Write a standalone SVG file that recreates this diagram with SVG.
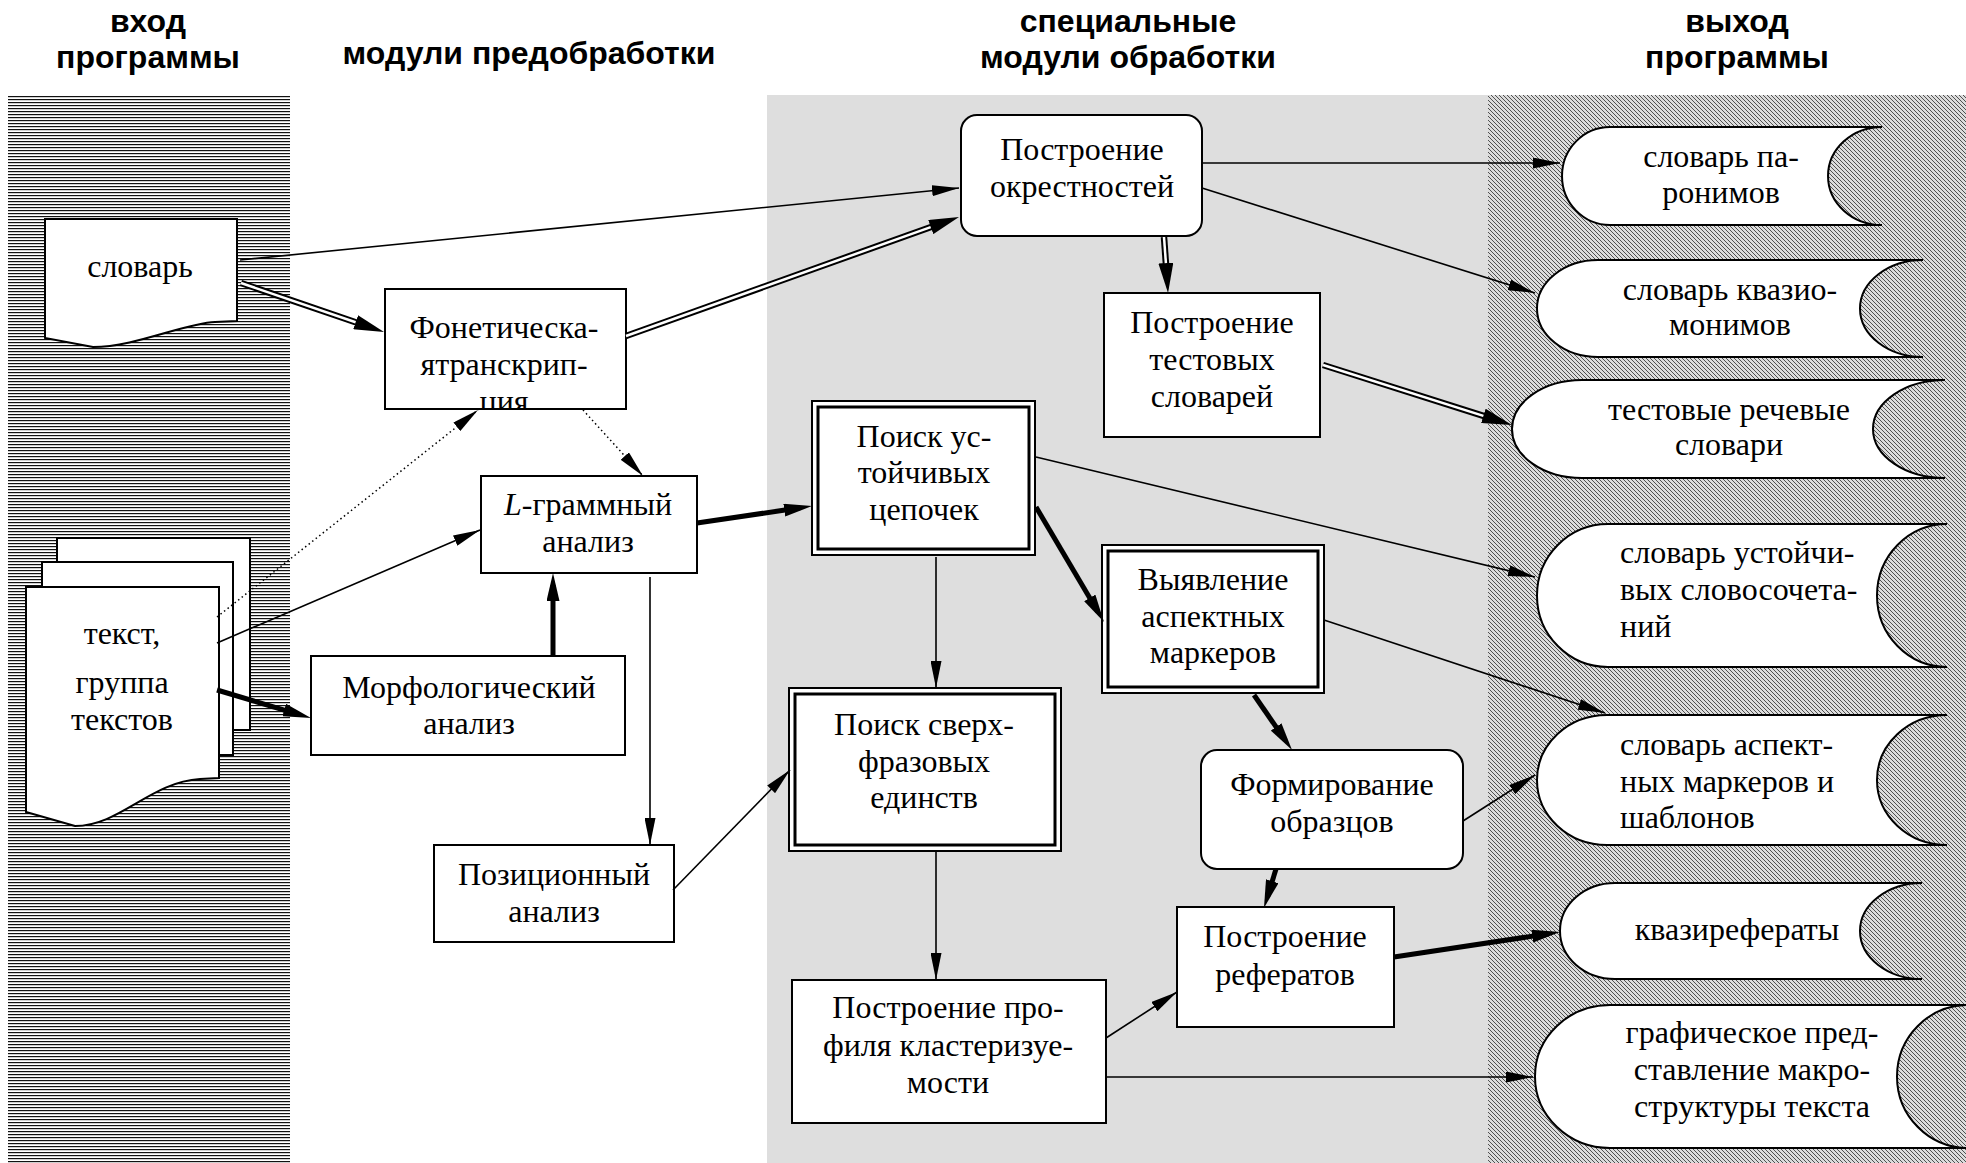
<svg xmlns="http://www.w3.org/2000/svg" width="1966" height="1163" viewBox="0 0 1966 1163">
<style>
.t{font-family:"Liberation Serif","Times New Roman",serif;font-size:32px;text-anchor:middle;fill:#000}
.tl{font-family:"Liberation Serif","Times New Roman",serif;font-size:32px;text-anchor:start;fill:#000}
.h{font-family:"Liberation Sans",Arial,sans-serif;font-weight:bold;font-size:32px;text-anchor:middle;fill:#000}
.box{fill:#fff;stroke:#000;stroke-width:2}
.in{fill:none;stroke:#000;stroke-width:3}
.c{fill:none;stroke:#000;stroke-width:1.6}
.ck{fill:none;stroke:#000;stroke-width:5}
.cd{fill:none;stroke:#000;stroke-width:1.5;stroke-dasharray:1.5 3}
.db{fill:none;stroke:#000;stroke-width:6.5}
.dw{fill:none;stroke:#fff;stroke-width:2.5}
</style>
<defs>
<pattern id="hz" patternUnits="userSpaceOnUse" x="0" y="0" width="10" height="3"><rect width="10" height="3" fill="#fff"/><rect width="10" height="1.2" fill="#111"/></pattern>
<pattern id="dg" patternUnits="userSpaceOnUse" x="0" y="0" width="4" height="4"><rect width="4" height="4" fill="#dcdcdc"/><path d="M-1,-1 L5,5 M-1,3 L1,5 M3,-1 L5,1" stroke="#505050" stroke-width="1"/></pattern>
<marker id="ah" markerWidth="27" markerHeight="11" refX="27" refY="5.5" orient="auto" markerUnits="userSpaceOnUse"><path d="M0,0 L27,5.5 L0,11 z" fill="#000"/></marker>
<marker id="aht" markerWidth="28" markerHeight="13" refX="16" refY="6.5" orient="auto" markerUnits="userSpaceOnUse"><path d="M0,0 L28,6.5 L0,13 z" fill="#000"/></marker>
<marker id="ahd" markerWidth="30" markerHeight="15" refX="10" refY="7.5" orient="auto" markerUnits="userSpaceOnUse"><path d="M0,0 L30,7.5 L0,15 z" fill="#000"/></marker>
<clipPath id="clipF"><rect x="386" y="290" width="239" height="118"/></clipPath>
</defs>

<g id="background">
<rect x="0" y="0" width="1966" height="1163" fill="#fff"/>
<rect x="8" y="95" width="282" height="1068" fill="url(#hz)"/>
<rect x="767" y="95" width="721" height="1068" fill="#dedede"/>
<rect x="1488" y="95" width="478" height="1068" fill="url(#dg)"/>
</g>

<g id="headers">
<text class="h" x="148" y="32">вход</text>
<text class="h" x="148" y="68">программы</text>
<text class="h" x="529" y="64">модули предобработки</text>
<text class="h" x="1128" y="32">специальные</text>
<text class="h" x="1128" y="68">модули обработки</text>
<text class="h" x="1737" y="32">выход</text>
<text class="h" x="1737" y="68">программы</text>
</g>

<g id="nodes">
<g id="n-slovar">
<path class="box" d="M45,219 H237 V321 L215,322 C185,323 135,347 93,347 L45,338 Z"/>
<text class="t" x="140" y="277">словарь</text>
</g>
<g id="n-tekst">
<rect class="box" x="57" y="538" width="193" height="192"/>
<rect class="box" x="42" y="562" width="191" height="193"/>
<path class="box" d="M26,587 H219 V778 L200,779 C150,782 120,826 75,826 L26,812 Z"/>
<text class="t" x="122" y="644">текст,</text>
<text class="t" x="122" y="693">группа</text>
<text class="t" x="122" y="730">текстов</text>
</g>
<g id="n-fonet">
<rect class="box" x="385" y="289" width="241" height="120"/>
<text class="t" clip-path="url(#clipF)"><tspan x="504" y="338">Фонетическа-</tspan><tspan x="504" y="375">ятранскрип-</tspan><tspan x="504" y="412">ция</tspan></text>
</g>
<g id="n-lgram">
<rect class="box" x="481" y="476" width="216" height="97"/>
<text class="t"><tspan x="588" y="515"><tspan font-style="italic">L</tspan>-граммный</tspan><tspan x="588" y="552">анализ</tspan></text>
</g>
<g id="n-morf">
<rect class="box" x="311" y="656" width="314" height="99"/>
<text class="t"><tspan x="469" y="698">Морфологический</tspan><tspan x="469" y="734">анализ</tspan></text>
</g>
<g id="n-pozic">
<rect class="box" x="434" y="845" width="240" height="97"/>
<text class="t"><tspan x="554" y="885">Позиционный</tspan><tspan x="554" y="922">анализ</tspan></text>
</g>
<g id="n-okrest">
<rect class="box" x="961" y="115" width="241" height="121" rx="16" ry="16"/>
<text class="t"><tspan x="1082" y="160">Построение</tspan><tspan x="1082" y="197">окрестностей</tspan></text>
</g>
<g id="n-test">
<rect class="box" x="1104" y="293" width="216" height="144"/>
<text class="t"><tspan x="1212" y="333">Построение</tspan><tspan x="1212" y="370">тестовых</tspan><tspan x="1212" y="407">словарей</tspan></text>
</g>
<g id="n-poisk">
<rect class="box" x="812" y="401" width="223" height="154"/>
<rect class="in" x="818" y="407" width="211" height="142"/>
<text class="t"><tspan x="924" y="447">Поиск ус-</tspan><tspan x="924" y="483">тойчивых</tspan><tspan x="924" y="520">цепочек</tspan></text>
</g>
<g id="n-vyyavl">
<rect class="box" x="1102" y="545" width="222" height="148"/>
<rect class="in" x="1108" y="551" width="210" height="136"/>
<text class="t"><tspan x="1213" y="590">Выявление</tspan><tspan x="1213" y="627">аспектных</tspan><tspan x="1213" y="663">маркеров</tspan></text>
</g>
<g id="n-sverkh">
<rect class="box" x="789" y="688" width="272" height="163"/>
<rect class="in" x="795" y="694" width="260" height="151"/>
<text class="t"><tspan x="924" y="735">Поиск сверх-</tspan><tspan x="924" y="772">фразовых</tspan><tspan x="924" y="808">единств</tspan></text>
</g>
<g id="n-form">
<rect class="box" x="1201" y="750" width="262" height="119" rx="16" ry="16"/>
<text class="t"><tspan x="1332" y="795">Формирование</tspan><tspan x="1332" y="832">образцов</tspan></text>
</g>
<g id="n-refer">
<rect class="box" x="1177" y="907" width="217" height="120"/>
<text class="t"><tspan x="1285" y="947">Построение</tspan><tspan x="1285" y="985">рефератов</tspan></text>
</g>
<g id="n-profil">
<rect class="box" x="792" y="980" width="314" height="143"/>
<text class="t"><tspan x="948" y="1018">Построение про-</tspan><tspan x="948" y="1056">филя кластеризуе-</tspan><tspan x="948" y="1093">мости</tspan></text>
</g>
<g id="o-paronim">
<path class="box" d="M1610,127 H1882 A54,49 0 0 0 1882,225 H1610 A48,49 0 0 1 1610,127 Z"/>
<text class="t"><tspan x="1721" y="167">словарь па-</tspan><tspan x="1721" y="203">ронимов</tspan></text>
</g>
<g id="o-kvazi">
<path class="box" d="M1598,260 H1923 A63,48.5 0 0 0 1923,357 H1598 A61,48.5 0 0 1 1598,260 Z"/>
<text class="t"><tspan x="1730" y="300">словарь квазио-</tspan><tspan x="1730" y="335">монимов</tspan></text>
</g>
<g id="o-test">
<path class="box" d="M1582,380 H1945 A72,49 0 0 0 1945,478 H1582 A70,49 0 0 1 1582,380 Z"/>
<text class="t"><tspan x="1729" y="420">тестовые речевые</tspan><tspan x="1729" y="455">словари</tspan></text>
</g>
<g id="o-ustoich">
<path class="box" d="M1608,524 H1947 A70,71.5 0 0 0 1947,667 H1608 A71,71.5 0 0 1 1608,524 Z"/>
<text class="tl"><tspan x="1620" y="563">словарь устойчи-</tspan><tspan x="1620" y="600">вых словосочета-</tspan><tspan x="1620" y="637">ний</tspan></text>
</g>
<g id="o-aspekt">
<path class="box" d="M1607,715 H1947 A70,65 0 0 0 1947,845 H1607 A70,65 0 0 1 1607,715 Z"/>
<text class="tl"><tspan x="1620" y="755">словарь аспект-</tspan><tspan x="1620" y="792">ных маркеров и</tspan><tspan x="1620" y="828">шаблонов</tspan></text>
</g>
<g id="o-kvaziref">
<path class="box" d="M1615,883 H1922 A62,48 0 0 0 1922,979 H1615 A55,48 0 0 1 1615,883 Z"/>
<text class="t" x="1737" y="940">квазирефераты</text>
</g>
<g id="o-graf">
<path class="box" d="M1610,1005 H1968 A71,71.5 0 0 0 1968,1148 H1610 A75,71.5 0 0 1 1610,1005 Z"/>
<text class="t"><tspan x="1752" y="1043">графическое пред-</tspan><tspan x="1752" y="1080">ставление макро-</tspan><tspan x="1752" y="1117">структуры текста</tspan></text>
</g>
</g>

<g id="connectors">
<line class="c" x1="240" y1="260" x2="959" y2="188" marker-end="url(#ah)"/>
<line class="c" x1="1202" y1="163" x2="1560" y2="163" marker-end="url(#ah)"/>
<line class="c" x1="1202" y1="188" x2="1535" y2="293" marker-end="url(#ah)"/>
<line class="c" x1="217" y1="643" x2="480" y2="530" marker-end="url(#ah)"/>
<line class="c" x1="650" y1="577" x2="650" y2="845" marker-end="url(#ah)"/>
<line class="c" x1="1036" y1="457" x2="1535" y2="577" marker-end="url(#ah)"/>
<line class="c" x1="936" y1="557" x2="936" y2="688" marker-end="url(#ah)"/>
<line class="c" x1="1324" y1="620" x2="1605" y2="713" marker-end="url(#ah)"/>
<line class="c" x1="673" y1="890" x2="790" y2="770" marker-end="url(#ah)"/>
<line class="c" x1="936" y1="851" x2="936" y2="980" marker-end="url(#ah)"/>
<line class="c" x1="1106" y1="1038" x2="1177" y2="992" marker-end="url(#ah)"/>
<line class="c" x1="1106" y1="1077" x2="1533" y2="1077" marker-end="url(#ah)"/>
<line class="c" x1="1463" y1="821" x2="1535" y2="775" marker-end="url(#ah)"/>
<line class="cd" x1="217" y1="617" x2="478" y2="410" marker-end="url(#ah)"/>
<line class="cd" x1="583" y1="410" x2="643" y2="476" marker-end="url(#ah)"/>
<line class="ck" x1="217" y1="690" x2="299.5" y2="714.6" marker-end="url(#aht)"/>
<line class="ck" x1="553" y1="656" x2="553" y2="585" marker-end="url(#aht)"/>
<line class="ck" x1="697" y1="523" x2="800.1" y2="507.8" marker-end="url(#aht)"/>
<line class="ck" x1="1036" y1="507" x2="1097.9" y2="611.7" marker-end="url(#aht)"/>
<line class="ck" x1="1254" y1="695" x2="1285.2" y2="740.1" marker-end="url(#aht)"/>
<line class="ck" x1="1276" y1="869" x2="1267.5" y2="896.5" marker-end="url(#aht)"/>
<line class="ck" x1="1394" y1="957" x2="1548.1" y2="933.8" marker-end="url(#aht)"/>
<line class="db" x1="241" y1="283" x2="365.1" y2="325.5" marker-end="url(#ahd)"/>
<line class="dw" x1="241" y1="283" x2="355.6" y2="322.3"/>
<line class="db" x1="626" y1="336" x2="940.2" y2="223.7" marker-end="url(#ahd)"/>
<line class="dw" x1="626" y1="336" x2="930.7" y2="227.1"/>
<line class="db" x1="1164" y1="237" x2="1166.6" y2="273" marker-end="url(#ahd)"/>
<line class="dw" x1="1164" y1="237" x2="1165.9" y2="263.1"/>
<line class="db" x1="1323" y1="365" x2="1492.9" y2="418.9" marker-end="url(#ahd)"/>
<line class="dw" x1="1323" y1="365" x2="1483.4" y2="415.9"/>
</g>
</svg>
